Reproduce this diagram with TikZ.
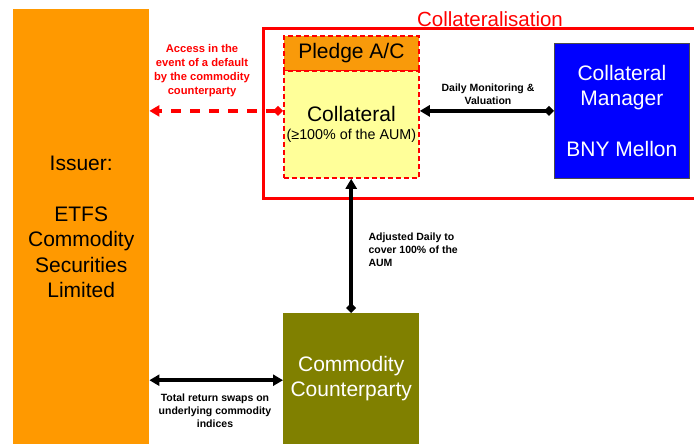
\documentclass[tikz,border=0pt]{standalone}
\usepackage{fontspec}
\setmainfont{Liberation Sans}
\usetikzlibrary{arrows.meta}

\definecolor{issuerorange}{HTML}{FF9900}
\definecolor{pledgeorange}{HTML}{F99A0A}
\definecolor{collyellow}{HTML}{FFFF99}
\definecolor{managerblue}{HTML}{0000FF}
\definecolor{cpolive}{HTML}{808000}

\tikzset{
  blocknode/.style={font=\fontsize{21}{25.5}\selectfont, align=center, inner sep=0pt, anchor=north west},
  pledgeborder/.style={draw=red, line width=1.8pt, dash pattern=on 5pt off 3pt},
  smalllabel/.style={font=\fontsize{10.5}{13}\selectfont\bfseries, align=center},
  flowarrow/.style={line width=3.6pt, {Diamond[length=10pt,width=10pt,sep=0pt]}-{Triangle[length=10pt,width=11pt]}},
}

\begin{document}
\begin{tikzpicture}[x=1pt,y=-1pt]
\useasboundingbox (0,0) rectangle (696,444);

% Issuer
\node[blocknode, fill=issuerorange, minimum width=136pt, minimum height=435pt] (issuer) at (13,9)
  {Issuer:\\[25.5pt]ETFS\\Commodity\\Securities\\Limited};

% Collateralisation frame
\draw[red, line width=3pt] (694,29) -- (263,29) -- (263,198) -- (694,198);
\node[font=\fontsize{20.5}{24}\selectfont, text=red, anchor=base] (frametitle) at (490,27) {Collateralisation};

% Pledge account and collateral
\node[blocknode, fill=pledgeorange, pledgeborder, minimum width=135pt, minimum height=35pt] (pledge) at (283,35)
  {Pledge A/C};
\node[blocknode, fill=collyellow, pledgeborder, minimum width=135pt, minimum height=107pt] (coll) at (283,70)
  {Collateral\\[-7pt]{\fontsize{14.3}{17}\selectfont(≥100\% of the AUM)}};

% Collateral manager
\node[blocknode, fill=managerblue, draw=black!70, line width=0.8pt, text=white,
  minimum width=135pt, minimum height=135pt] (manager) at (554,43)
  {Collateral\\Manager\\[25.5pt]BNY Mellon};

% Commodity counterparty
\node[blocknode, fill=cpolive, text=white, minimum width=136pt, minimum height=131pt] (cparty) at (283,313)
  {Commodity\\Counterparty};

% Connectors
\draw[flowarrow] (manager.west) -- (manager.west -| coll.east);
\draw[flowarrow, red, dash pattern=on 10pt off 9pt]
  (manager.west -| coll.west) -- (manager.west -| issuer.east);
\draw[flowarrow] (cparty.north) -- (cparty.north |- coll.south);
\draw[line width=3.6pt, {Triangle[length=10pt,width=11pt]}-{Triangle[length=10pt,width=11pt]}]
  ([yshift=-1.5pt]cparty.west) -- ([yshift=-1.5pt]cparty.west -| issuer.east);

% Labels
\node[smalllabel] (monitorlbl) at (488,94) {Daily Monitoring \&\\Valuation};
\node[smalllabel, text=red, font=\fontsize{11.2}{14}\selectfont\bfseries] (accesslbl) at (202,71)
  {Access in the\\event of a default\\by the commodity\\counterparty};
\node[smalllabel, align=left, anchor=west] (adjustlbl) at (365,250)
  {Adjusted Daily to\\cover 100\% of the\\AUM};
\node[smalllabel] (swaplbl) at (215,411)
  {Total return swaps on\\underlying commodity\\indices};
\end{tikzpicture}
\end{document}
